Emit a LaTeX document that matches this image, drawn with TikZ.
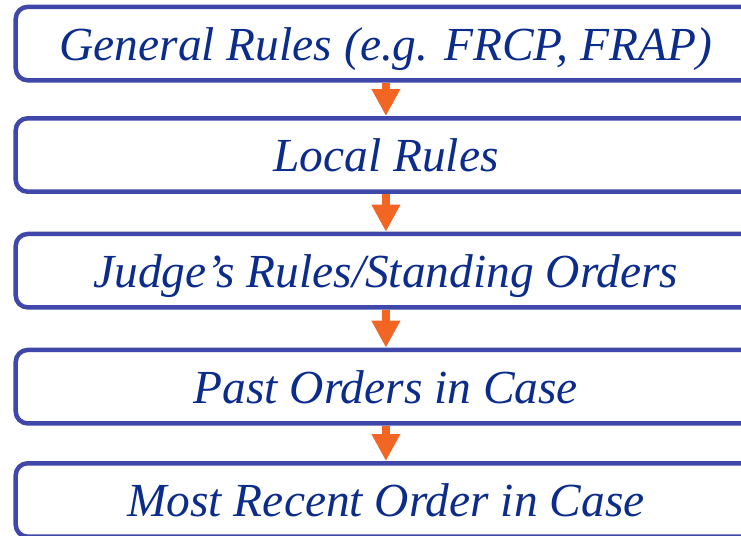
\documentclass[tikz,border=0pt]{standalone}
\usepackage{fontspec}
\setmainfont{Liberation Serif}
\usetikzlibrary{arrows.meta}
\definecolor{boxblue}{RGB}{63,72,170}
\definecolor{textblue}{RGB}{12,44,140}
\definecolor{flowred}{RGB}{242,101,34}

\begin{document}
\begin{tikzpicture}[x=0.02cm,y=-0.02cm,
        rulebox/.style={draw=boxblue, line width=0.09cm, rounded corners=0.24cm,
            minimum width=14.81cm, minimum height=1.47cm, inner sep=0pt,
            text=textblue, font=\fontsize{27}{30}\selectfont\itshape,
            text height=19pt, text depth=0pt},
        flow/.style={draw=flowred, line width=0.16cm,
            -{Triangle[length=0.54cm,width=0.54cm]}}]
        \useasboundingbox (0,0) rectangle (741,536);
        \clip (0,0) rectangle (741,536);

        \node[rulebox] (general) at (385.9,43.6) {General Rules (e.g. FRCP, FRAP)};
        \node[rulebox] (local) at (385.9,155) {Local Rules};
        \node[rulebox] (judge) at (385.9,270.7) {Judge’s Rules/Standing Orders};
        \node[rulebox] (past) at (385.9,386.7) {Past Orders in Case};
        \node[rulebox] (recent) at (385.9,500) {Most Recent Order in Case};

        \draw[flow] (general) -- (local);
        \draw[flow] (local) -- (judge);
        \draw[flow] (judge) -- (past);
        \draw[flow] (past) -- (recent);
    \end{tikzpicture}
\end{document}
